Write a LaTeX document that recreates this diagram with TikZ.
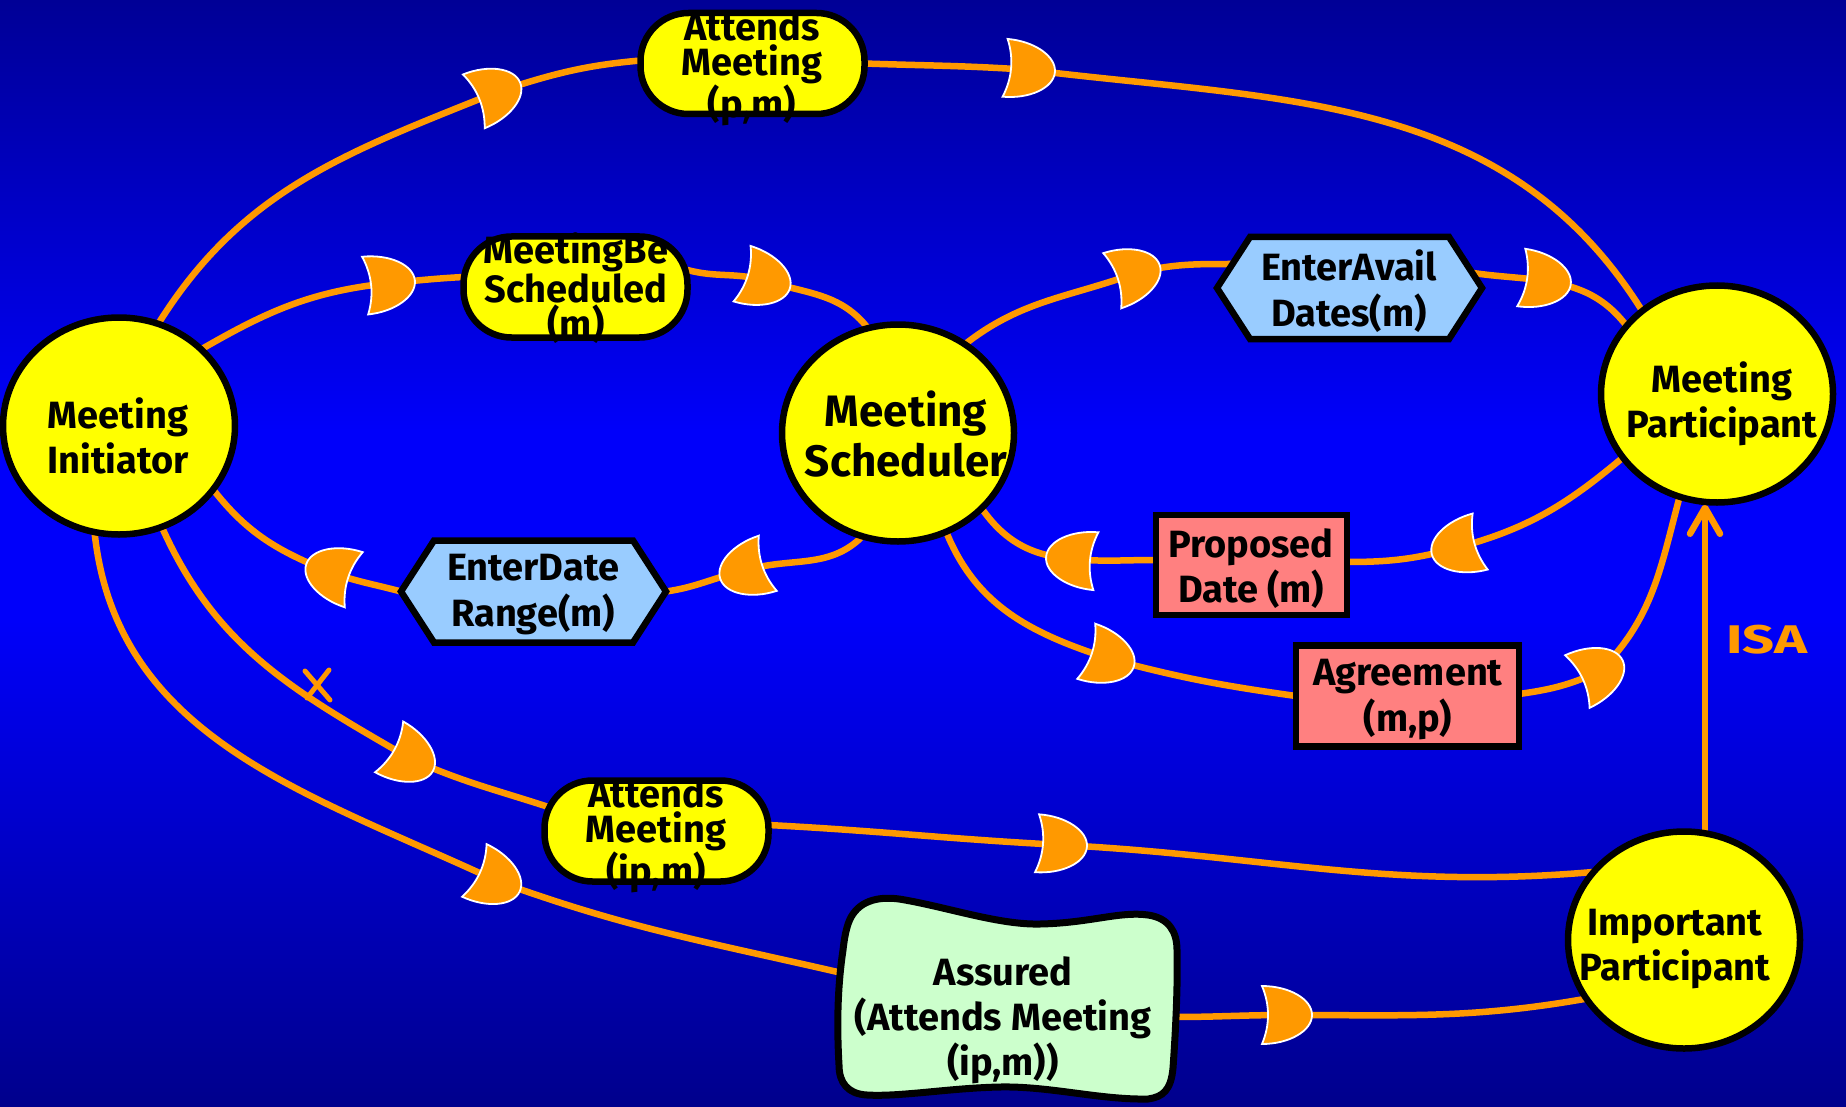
\documentclass[tikz,border=0pt]{standalone}
\usepackage{fontspec}
\setmainfont{Fira Sans}
\usetikzlibrary{shapes.geometric,arrows.meta}

\pgfdeclarelayer{back}
\pgfdeclarelayer{wires}
\pgfsetlayers{back,wires,main}

\definecolor{bgtop}{RGB}{0,0,150}
\definecolor{bgmid}{RGB}{0,0,250}
\definecolor{bgbot}{RGB}{0,0,140}
\definecolor{wire}{RGB}{255,153,0}
\definecolor{actorfill}{RGB}{255,255,0}
\definecolor{taskfill}{RGB}{153,204,255}
\definecolor{resfill}{RGB}{255,128,128}
\definecolor{softfill}{RGB}{204,255,204}

\tikzset{
  actor/.style={ellipse,draw=black,line width=6.5pt,fill=actorfill,
    minimum width=232pt,minimum height=217pt,inner sep=0pt,outer sep=0pt},
  goal/.style={rectangle,rounded corners=48pt,draw=black,line width=6.5pt,
    fill=actorfill,minimum width=224pt,minimum height=101pt,inner sep=0pt,outer sep=0pt},
  resource/.style={rectangle,draw=black,line width=6.5pt,fill=resfill,
    inner sep=0pt,outer sep=0pt},
  frame/.style={rectangle,inner sep=0pt,outer sep=0pt},
  taskshape/.style={draw=black,line width=6.5pt,fill=taskfill},
  softshape/.style={draw=black,line width=7pt,fill=softfill},
  lbl/.style={font=\bfseries\fontsize{38}{45}\selectfont,align=center,
    text=black,inner sep=0pt},
  tight/.style={font=\bfseries\fontsize{38}{35}\selectfont},
  wire/.style={draw=wire,line width=6.5pt},
  dep/.pic={\filldraw[fill=wire,draw=white,line width=1.8pt]
    (-25,29) .. controls (2,29) and (25,16) .. (25,0)
    .. controls (25,-16) and (2,-29) .. (-25,-29)
    .. controls (-17,-10) and (-17,10) .. (-25,29) -- cycle;}
}

\begin{document}
\begin{tikzpicture}[x=1pt,y=1pt]
\useasboundingbox (0,-1107) rectangle (1846,0);

% background
\begin{pgfonlayer}{back}
\shade[top color=bgtop,bottom color=bgmid] (0,0) rectangle (1846,-431);
\fill[bgmid] (0,-430) rectangle (1846,-621);
\shade[top color=bgmid,bottom color=bgbot] (0,-620) rectangle (1846,-1107);
\end{pgfonlayer}

% actors
\node[actor] (ini) at (119,-426) {};
\node[lbl] (ini-t) at (118,-436) {Meeting\\Initiator};
\node[actor] (sch) at (898,-433) {};
\node[lbl,font=\bfseries\fontsize{44}{50}\selectfont] (sch-t) at (906,-434) {Meeting\\Scheduler};
\node[actor] (par) at (1717,-394) {};
\node[lbl] (par-t) at (1722,-404) {Meeting\\Participant};
\node[actor] (imp) at (1684,-940) {};
\node[lbl] (imp-t) at (1675,-949) {Important\\Participant};

% goals
\node[goal] (apm) at (752.5,-63.5) {};
\node[lbl,tight] (apm-t) at (752,-69) {Attends\\Meeting\\(p,m)};
\node[goal] (mbs) at (575.5,-287) {};
\node[lbl,tight] (mbs-t) at (576,-288) {MeetingBe\\Scheduled\\(m)};
\node[goal] (aim) at (656.5,-831) {};
\node[lbl,tight] (aim-t) at (656,-836) {Attends\\Meeting\\(ip,m)};

% tasks
\node[frame,minimum width=265pt,minimum height=102pt] (ead) at (1349.5,-288) {};
\filldraw[taskshape] (ead.west) -- ([xshift=33pt]ead.north west) -- ([xshift=-33pt]ead.north east)
  -- (ead.east) -- ([xshift=-33pt]ead.south east) -- ([xshift=33pt]ead.south west) -- cycle;
\node[lbl,font=\bfseries\fontsize{38}{46}\selectfont] (ead-t) at (1349,-291) {EnterAvail\\Dates(m)};
\node[frame,minimum width=265pt,minimum height=102pt] (edr) at (533.5,-591.5) {};
\filldraw[taskshape] (edr.west) -- ([xshift=33pt]edr.north west) -- ([xshift=-33pt]edr.north east)
  -- (edr.east) -- ([xshift=-33pt]edr.south east) -- ([xshift=33pt]edr.south west) -- cycle;
\node[lbl,font=\bfseries\fontsize{38}{46}\selectfont] (edr-t) at (533,-595) {EnterDate\\Range(m)};

% resources
\node[resource,minimum width=191pt,minimum height=100pt] (prop) at (1251.5,-565) {};
\node[lbl] (prop-t) at (1251,-569) {Proposed\\Date (m)};
\node[resource,minimum width=223pt,minimum height=101pt] (agr) at (1407.5,-696) {};
\node[lbl,font=\bfseries\fontsize{38}{46}\selectfont] (agr-t) at (1408,-700) {Agreement\\(m,p)};

% softgoal
\node[frame,minimum width=340pt,minimum height=196pt] (asd) at (1008,-1003) {};
\filldraw[softshape] (853,-914) .. controls (864,-898) and (885,-896) .. (905,-900)
  .. controls (950,-908) and (1000,-925) .. (1040,-924)
  .. controls (1090,-923) and (1120,-911) .. (1148,-915)
  .. controls (1169,-918) and (1177,-932) .. (1177,-950)
  .. controls (1178,-990) and (1175,-1040) .. (1173,-1068)
  .. controls (1171,-1090) and (1163,-1097) .. (1148,-1099)
  .. controls (1100,-1100) and (1050,-1086) .. (1000,-1087)
  .. controls (950,-1088) and (900,-1097) .. (867,-1095)
  .. controls (848,-1094) and (839,-1083) .. (839,-1065)
  .. controls (837,-1030) and (837,-990) .. (843,-950)
  .. controls (845,-932) and (848,-921) .. (853,-914) -- cycle;
\node[lbl] (asd-t) at (1003,-1020) {Assured\\(Attends Meeting\\(ip,m))};

% ISA label
\node[font=\bfseries\fontsize{40}{40}\selectfont\addfontfeatures{FakeStretch=1.4},
  text=wire,inner sep=0pt] (isa) at (1767,-640) {ISA};

% positions of the dependency symbols
\coordinate (d1) at (497,-92);
\coordinate (d2) at (1030,-70);
\coordinate (d3) at (390,-283);
\coordinate (d4) at (766,-281);
\coordinate (d5) at (1136,-273);
\coordinate (d6) at (1546,-281);
\coordinate (d7) at (1456,-548);
\coordinate (d8) at (1071,-559);
\coordinate (d9) at (1110,-659);
\coordinate (d10) at (1600,-671);
\coordinate (d11) at (744,-571);
\coordinate (d12) at (330,-572);
\coordinate (d13) at (411,-759);
\coordinate (d14) at (1062,-845);
\coordinate (d15) at (497,-881);
\coordinate (d16) at (1287,-1015);
\coordinate (xm) at (318,-685);

\begin{pgfonlayer}{wires}
% Attends Meeting (p,m)
\draw[wire] (ini.69) to[out=58,in=202] (d1) to[out=18,in=185] ([yshift=3pt]apm.west);
\draw[wire] (apm.east) to[out=-2,in=176] (d2) to[out=-7,in=122] (par.132);
% MeetingBe Scheduled
\draw[wire] (ini.43) to[out=30,in=186] (d3) to[out=5,in=183] ([yshift=10pt]mbs.west);
\draw[wire] ([yshift=17pt]mbs.east) to[out=-15,in=163] (d4) to[out=-17,in=128] (sch.106);
% EnterAvail Dates
\draw[wire] (sch.53) to[out=38,in=200] (d5) to[out=14,in=180] ([xshift=15pt,yshift=24pt]ead.west);
\draw[wire] ([xshift=-9pt,yshift=15pt]ead.east) to[out=-8,in=172] (d6) to[out=-10,in=128] (par.143);
% Proposed Date
\draw[wire] (par.214) to[out=220,in=15] (d7) to[out=195,in=0] ([yshift=3pt]prop.east);
\draw[wire] ([yshift=5pt]prop.west) to[out=180,in=-5] (d8) to[out=175,in=-55] (sch.318);
% Agreement
\draw[wire] (sch.296) to[out=-68,in=162] (d9) to[out=-15,in=172] (agr.west);
\draw[wire] ([yshift=2pt]agr.east) to[out=8,in=205] (d10) to[out=45,in=-105] (par.250);
% EnterDate Range
\draw[wire] (sch.251) to[out=225,in=18] (d11) to[out=192,in=8] (edr.east);
\draw[wire] (edr.west) to[out=165,in=-20] (d12) to[out=158,in=-52] (ini.326);
% Attends Meeting (ip,m)
\draw[wire] (ini.293) to[out=-66,in=150] (d13) to[out=-24,in=162] ([xshift=4pt,yshift=24pt]aim.west);
\draw[wire] ([yshift=6pt]aim.east) to[out=-3,in=177] (d14) to[out=-3,in=185] (imp.143);
% Assured
\draw[wire] (ini.257) to[out=-84,in=155] (d15) to[out=-20,in=167] ([xshift=4pt,yshift=30pt]asd.west);
\draw[wire] ([xshift=-4pt,yshift=-14pt]asd.east) to[out=0,in=180] (d16) to[out=0,in=190] (imp.211);
% ISA link
\draw[wire,-{Straight Barb[length=26pt,width=30pt,round]}]
  ([xshift=21pt]imp.north) -- ([xshift=-12pt,yshift=-2pt]par.south);
% cross mark
\draw[wire,line width=5pt,line cap=round] ([shift={(-13,14)}]xm) -- ([shift={(12,-15)}]xm);
\draw[wire,line width=5pt,line cap=round] ([shift={(11,15)}]xm) -- ([shift={(-11,-13)}]xm);
% dependency symbols
\pic[rotate=22] at (d1) {dep};
\pic[rotate=-5] at (d2) {dep};
\pic[rotate=6] at (d3) {dep};
\pic[rotate=-17] at (d4) {dep};
\pic[rotate=18] at (d5) {dep};
\pic[rotate=-8] at (d6) {dep};
\pic[rotate=195] at (d7) {dep};
\pic[rotate=175] at (d8) {dep};
\pic[rotate=-18] at (d9) {dep};
\pic[rotate=25] at (d10) {dep};
\pic[rotate=198] at (d11) {dep};
\pic[rotate=162] at (d12) {dep};
\pic[rotate=-29] at (d13) {dep};
\pic[rotate=-4] at (d14) {dep};
\pic[rotate=-25] at (d15) {dep};
\pic[rotate=0] at (d16) {dep};
\end{pgfonlayer}
\end{tikzpicture}
\end{document}
